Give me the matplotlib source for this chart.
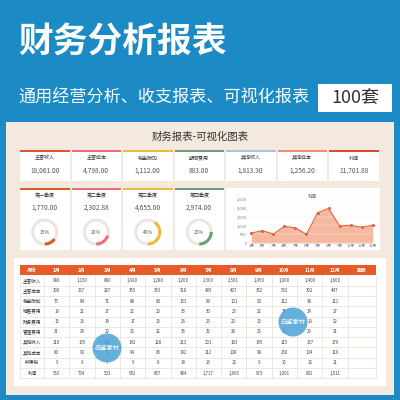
import matplotlib
matplotlib.use("Agg")
import matplotlib.pyplot as plt
from matplotlib.patches import Rectangle, Circle, Wedge
import numpy as np

plt.rcParams['font.family'] = ['Noto Sans CJK SC', 'DejaVu Sans']

kpi_names = ["主营收入", "主营成本", "税金附加", "期间费用", "其他收入", "其他成本", "利润"]
kpi_values = ["18,061.00", "4,798.00", "1,112.00", "883.00", "1,813.30", "1,256.20", "11,701.88"]
kpi_colors = ["#e0552b", "#e8707a", "#f0b840", "#6a9e7e", "#a8c8e0", "#f08a70", "#e04a2a"]
q_names = ["第一季度", "第二季度", "第三季度", "第四季度"]
q_values = ["1,770.00", "2,302.88", "4,655.00", "2,974.00"]
q_pct = [15, 20, 40, 25]
months = ["1月", "2月", "3月", "4月", "5月", "6月", "7月", "8月", "9月", "10月", "11月", "12月"]
row_names = ["主营收入", "主营成本", "税金附加", "销售费用", "财务费用", "管理费用", "其他收入", "其他成本", "所得税", "利润"]
table = [
    [980, 1150, 880, 1420, 1280, 1200, 2300, 2501, 1450, 1900, 1400, 1600],
    [300, 337, 287, 355, 333, 510, 495, 407, 362, 563, 392, 447],
    [75, 84, 71, 88, 80, 133, 89, 101, 90, 112, 98, 111],
    [19, 21, 17, 22, 20, 33, 30, 25, 22, 35, 24, 27],
    [15, 16, 14, 17, 16, 26, 25, 20, 15, 28, 19, 22],
    [31, 24, 20, 25, 22, 36, 32, 28, 25, 40, 29, 31],
    [110, 135, 120, 142, 128, 213, 201, 183, 145, 115, 157, 179],
    [80, 90, 70, 94, 85, 142, 112, 108, 98, 150, 104, 119],
    [9, 9, 7, 9, 8, 14, 13, 10, 9, 15, 10, 11],
    [563, 704, 503, 952, 857, 494, 1717, 1965, 973, 1001, 892, 1011],
]
profit = table[-1]

W = H = 400
fig = plt.figure(figsize=(4, 4), dpi=100)
fig.patch.set_facecolor("#1c8ac4")
bg = fig.add_axes([0, 0, 1, 1])
bg.set_xlim(0, W); bg.set_ylim(H, 0); bg.axis("off")

def rect(x, y, w, h, fc, ec="none", lw=0, z=1):
    bg.add_patch(Rectangle((x, y), w, h, fc=fc, ec=ec, lw=lw, zorder=z))

def txt(x, y, s, size, color="#333333", ha="center", weight="normal", z=5):
    bg.text(x, y, s, fontsize=size, color=color, ha=ha, va="center", weight=weight, zorder=z)

txt(18, 42, "财务分析报表", 25, "white", ha="left", weight="bold")
txt(18, 98, "通用经营分析、收支报表、可视化报表", 12.3, "white", ha="left")
rect(318, 84, 74, 28, "white")
txt(355, 98, "100套", 13, "#333333")

rect(6, 122, 388, 273, "#f3e9de", z=1)
txt(200, 137, "财务报表-可视化图表", 7.5, "#333333")

# KPI cards
cw, gap, x0 = 49.5, 2, 20
for i in range(7):
    x = x0 + i * (cw + gap)
    rect(x, 150, cw, 31, "white", z=2)
    rect(x, 150, cw, 1.8, kpi_colors[i], z=3)
    txt(x + cw / 2, 158, kpi_names[i], 3.6)
    txt(x + cw / 2, 171, kpi_values[i], 4.8, "#555555")

# quarter cards
for i in range(4):
    x = x0 + i * (cw + gap)
    rect(x, 188, cw, 62, "white", z=2)
    rect(x, 188, cw, 1.8, kpi_colors[i], z=3)
    txt(x + cw / 2, 196, q_names[i], 3.6)
    txt(x + cw / 2, 208, q_values[i], 4.8, "#555555")
    cx, cy, r = x + cw / 2, 232, 13.5
    bg.add_patch(Wedge((cx, cy), r, 0, 360, width=3, fc="#ece6df", ec="none", zorder=3))
    bg.add_patch(Wedge((cx, cy), r, 90 - q_pct[i] * 3.6, 90, width=3, fc=kpi_colors[i], ec="none", zorder=4))
    txt(cx, cy, f"{q_pct[i]}%", 3.5, "#555555")

# line chart panel
rect(226, 188, 154, 62, "white", z=2)
ax = fig.add_axes([248 / W, 1 - 243 / H, 128 / W, 44 / H])
ax.set_zorder(3)
ax.patch.set_alpha(0)
xs = np.arange(12)
ax.fill_between(xs, profit, color="#f08050", alpha=0.55, lw=0)
ax.plot(xs, profit, color="#e8603a", lw=0.8, marker="o", ms=1.2)
ax.set_ylim(0, 2500); ax.set_xlim(-0.3, 11.3)
ax.set_yticks([0, 500, 1000, 1500, 2000, 2500])
ax.set_yticklabels(["0", "500", "1,000", "1,500", "2,000", "2,500"])
ax.set_xticks(xs); ax.set_xticklabels(months)
ax.tick_params(labelsize=2.8, length=0, pad=1, colors="#777777")
for s in ax.spines.values(): s.set_visible(False)
ax.grid(axis="y", color="#eeeeee", lw=0.3)
ax.set_title("利润", fontsize=3.2, color="#555555", pad=1)

# table
rect(14, 258, 372, 128, "white", z=2)
tx0, ty0 = 20, 265
col_w = [24] + [25.3] * 12 + [28]
row_h = 10.3
xs_edges = np.concatenate([[tx0], tx0 + np.cumsum(col_w)])
rect(tx0, ty0, sum(col_w), row_h, "#e85a28", z=3)
headers = ["月份"] + months + ["图表"]
for j, h in enumerate(headers):
    txt((xs_edges[j] + xs_edges[j + 1]) / 2, ty0 + row_h / 2, h, 3.5, "white", weight="bold")
for i, name in enumerate(row_names):
    y = ty0 + row_h * (i + 1)
    txt((xs_edges[0] + xs_edges[1]) / 2, y + row_h / 2, name, 3.3)
    for j, v in enumerate(table[i]):
        txt((xs_edges[j + 1] + xs_edges[j + 2]) / 2, y + row_h / 2, f"{v:,}", 3.1, "#444444")
    bg.plot([tx0, xs_edges[-1]], [y + row_h, y + row_h], color="#e3d6c8", lw=0.4, zorder=4)
for xe in xs_edges:
    bg.plot([xe, xe], [ty0 + row_h, ty0 + row_h * 11], color="#e3d6c8", lw=0.4, zorder=4)

# watermarks
for (cx, cy) in [(107, 348), (293, 322)]:
    bg.add_patch(Circle((cx, cy), 14.5, fc="#4aa3d6", ec="none", alpha=0.85, zorder=6))
    txt(cx, cy, "品鉴素材", 4.5, "white", z=7)

fig.savefig("out.png", dpi=100, facecolor=fig.get_facecolor())
